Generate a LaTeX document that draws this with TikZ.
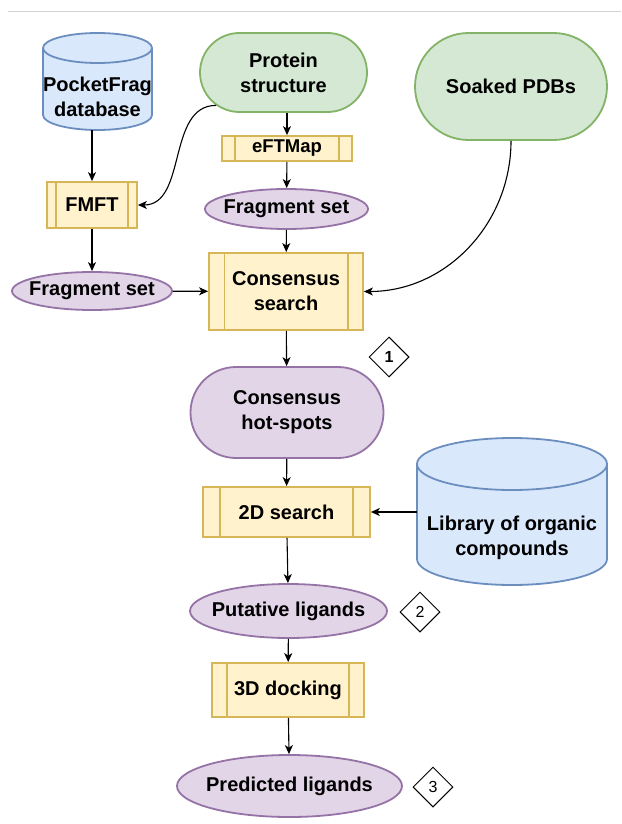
\documentclass[tikz,border=0pt]{standalone}
\usepackage{fontspec}
\setmainfont{Liberation Sans}
\usetikzlibrary{arrows.meta,shapes.geometric,shapes.misc,calc}
\definecolor{cylfill}{HTML}{DAE8FC}
\definecolor{cylline}{HTML}{6C8EBF}
\definecolor{termfill}{HTML}{D5E8D4}
\definecolor{termline}{HTML}{82B366}
\definecolor{ovalfill}{HTML}{E1D5E7}
\definecolor{ovalline}{HTML}{9673A6}
\definecolor{procfill}{HTML}{FFF2CC}
\definecolor{procline}{HTML}{D6B656}
\newcommand{\nowidth}[1]{\makebox[0pt]{#1}}
\tikzset{
  arr/.style={-{Stealth[length=9pt,width=8pt,inset=2.5pt]},line width=1.1pt},
  proc/.style={draw=procline,fill=procfill,line width=1.8pt,inner sep=0pt,align=center,
    path picture={
      \draw[procline,line width=1.8pt]
        ($(path picture bounding box.north west)!.1!(path picture bounding box.north east)$) --
        ($(path picture bounding box.south west)!.1!(path picture bounding box.south east)$)
        ($(path picture bounding box.north west)!.9!(path picture bounding box.north east)$) --
        ($(path picture bounding box.south west)!.9!(path picture bounding box.south east)$);}},
  term/.style={rounded rectangle,draw=termline,fill=termfill,line width=1.8pt,inner sep=0pt,align=center},
  oval/.style={ellipse,draw=ovalline,fill=ovalfill,line width=1.8pt,inner sep=0pt},
  hot/.style={rounded rectangle,draw=ovalline,fill=ovalfill,line width=1.8pt,inner sep=0pt,align=center},
  cyl/.style={draw=cylline,fill=cylfill,line width=1.8pt},
  cyltext/.style={inner sep=0pt,align=center},
  steptag/.style={diamond,draw,fill=white,line width=1pt,inner sep=0pt,minimum width=40pt,minimum height=40pt,font=\fontsize{16}{16}\selectfont}
}
\begin{document}
\begin{tikzpicture}[x=1pt,y=-1pt,font=\fontsize{20}{25}\selectfont\bfseries]
\useasboundingbox (0,0) rectangle (621,824);
\draw[gray!35,line width=1pt] (8,12) -- (621,12);

\filldraw[cyl] (43,48) -- (43,115) arc[start angle=180,end angle=360,x radius=54.5pt,y radius=15pt] -- (152,48) arc[start angle=0,end angle=180,x radius=54.5pt,y radius=15pt] -- cycle;
\draw[cyl] (43,48) arc[start angle=180,end angle=360,x radius=54.5pt,y radius=15pt];
\node[cyltext,minimum width=109pt,minimum height=67pt] (pocketfrag) at (97.5,96.5) {PocketFrag\\database};

\filldraw[cyl] (417,464) -- (417,559) arc[start angle=180,end angle=360,x radius=95pt,y radius=26pt] -- (607,464) arc[start angle=0,end angle=180,x radius=95pt,y radius=26pt] -- cycle;
\draw[cyl] (417,464) arc[start angle=180,end angle=360,x radius=95pt,y radius=26pt];
\node[cyltext,minimum width=190pt,minimum height=95pt] (library) at (512,537.5) {Library of organic\\compounds};

\node[term,minimum width=167pt,minimum height=79pt] (protein) at (283.5,72.5) {Protein\\structure};
\node[term,minimum width=192pt,minimum height=107pt] (soaked) at (511,86.5) {Soaked PDBs};
\node[proc,minimum width=130pt,minimum height=25pt,font=\fontsize{18.5}{20}\selectfont\bfseries] (eftmap) at (287,148.5) {eFTMap};
\node[oval,minimum width=163pt,minimum height=40pt] (fragtop) at (286.5,209) {\nowidth{Fragment set}};
\node[proc,minimum width=90pt,minimum height=46pt] (fmft) at (92,205) {FMFT};
\node[oval,minimum width=160pt,minimum height=38pt] (fragleft) at (92,291) {\nowidth{Fragment set}};
\node[proc,minimum width=154pt,minimum height=77pt] (consensus) at (286,291.5) {Consensus\\search};
\node[hot,minimum width=193pt,minimum height=91pt] (hotspots) at (287,412.5) {Consensus\\hot-spots};
\node[proc,minimum width=167pt,minimum height=50pt] (search2d) at (286.5,512) {2D search};
\node[oval,minimum width=197pt,minimum height=54pt] (putative) at (288.5,611) {\nowidth{Putative ligands}};
\node[proc,minimum width=152pt,minimum height=54pt] (docking) at (288,690) {3D docking};
\node[oval,minimum width=225pt,minimum height=62pt] (predicted) at (289.5,786) {\nowidth{Predicted ligands}};

\node[steptag,font=\fontsize{16}{16}\selectfont\bfseries] (step1) at (389,357) {1};
\node[steptag] (step2) at (420,612) {2};
\node[steptag] (step3) at (433,787) {3};

\draw[arr] (protein.south -| eftmap.north) -- (eftmap.north);
\draw[arr] (eftmap) -- (fragtop);
\draw[arr] (fragtop) -- (consensus);
\draw[arr] (pocketfrag.south -| fmft.north) -- (fmft);
\draw[arr] (protein.206) to[out=180,in=0] (fmft.east);
\draw[arr] (fmft) -- (fragleft);
\draw[arr] (fragleft) -- (consensus);
\draw[arr] (soaked.south) to[out=-90,in=0] (consensus.east);
\draw[arr] (consensus) -- (hotspots);
\draw[arr] (hotspots) -- (search2d);
\draw[arr] (library.west |- search2d.east) -- (search2d.east);
\draw[arr] (search2d) -- (putative);
\draw[arr] (putative) -- (docking);
\draw[arr] (docking) -- (predicted);
\end{tikzpicture}
\end{document}
